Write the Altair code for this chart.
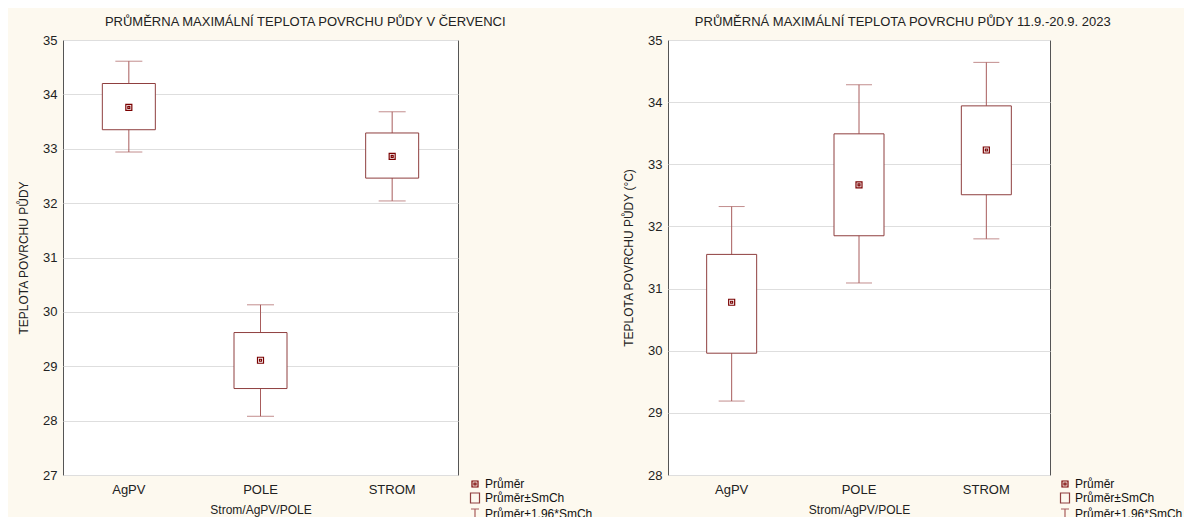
import altair as alt
import pandas as pd

categories = ["AgPV", "POLE", "STROM"]
legend_labels = ["Průměr", "Průměr±SmCh", "Průměr±1.96*SmCh"]

# July panel
jul_mean = [33.76, 29.11, 32.86]
jul_box_lo = [33.35, 28.59, 32.46]
jul_box_hi = [34.20, 29.62, 33.29]
jul_wh_lo = [32.94, 28.08, 32.04]
jul_wh_hi = [34.61, 30.13, 33.68]
jul_ticks = [27, 28, 29, 30, 31, 32, 33, 34, 35]

# September panel
sep_mean = [30.78, 32.67, 33.23]
sep_box_lo = [29.96, 31.85, 32.51]
sep_box_hi = [31.55, 33.49, 33.94]
sep_wh_lo = [29.19, 31.09, 31.80]
sep_wh_hi = [32.32, 34.28, 34.64]
sep_ticks = [28, 29, 30, 31, 32, 33, 34, 35]

FONT = "Liberation Sans"
BOX_COL = "#8f3f3f"
WH_COL = "#a85c5c"
MEAN_COL = "#7a0000"

MEAN_PATH = "M-0.6,-0.6H0.6V0.6H-0.6Z M-0.2,-0.2H0.2V0.2H-0.2Z"
RECT_PATH = "M-0.9,-1H0.9V1H-0.9Z"
T_PATH = "M-0.8,-1H0.8M0,-1V1"


def panel(means, blo, bhi, wlo, whi, ticks, ytitle, title, w, h, boxw, capw,
          legx):
    df = pd.DataFrame({
        "cat": categories, "mean": means, "lo": blo, "hi": bhi,
        "wlo": wlo, "whi": whi, "leg": [legend_labels[0]] * len(categories),
    })
    xenc = alt.X("cat:N", sort=categories,
                 scale=alt.Scale(paddingInner=0, paddingOuter=0),
                 axis=alt.Axis(title="Strom/AgPV/POLE", labelAngle=0,
                               ticks=False, domain=False, labelPadding=8,
                               labelFontSize=13, labelColor="#222",
                               titleFontSize=12, titleFontWeight="normal",
                               titleColor="#222", titlePadding=8,
                               labelFont=FONT, titleFont=FONT))
    yaxis = alt.Axis(title=ytitle, values=ticks, grid=True,
                     gridColor="#dedede", ticks=False, domain=False,
                     labelPadding=6, labelFontSize=13, labelColor="#222",
                     titleFontSize=12, titleFontWeight="normal",
                     titleColor="#222", titlePadding=12,
                     labelFont=FONT, titleFont=FONT)
    yscale = alt.Scale(domain=[ticks[0], ticks[-1]], nice=False, zero=False)
    base = alt.Chart(df).encode(x=xenc)

    leg = alt.Legend(title=None, orient="none", legendX=legx,
                     legendY=h + 3, padding=0, rowPadding=0,
                     symbolSize=100, symbolStrokeWidth=1.2,
                     labelFontSize=12, labelFont=FONT,
                     labelColor="#111", labelOffset=4)

    whisk = base.mark_rule(color=WH_COL, strokeWidth=1).encode(
        y=alt.Y("wlo:Q", scale=yscale, axis=yaxis), y2="whi:Q")
    box = base.mark_bar(size=boxw, fill="white", stroke=BOX_COL,
                        strokeWidth=1).encode(
        y=alt.Y("lo:Q", scale=yscale, axis=yaxis), y2="hi:Q")
    cap_lo = base.mark_tick(size=capw, thickness=1, color=WH_COL).encode(
        y=alt.Y("wlo:Q", scale=yscale, axis=yaxis))
    cap_hi = base.mark_tick(size=capw, thickness=1, color=WH_COL).encode(
        y=alt.Y("whi:Q", scale=yscale, axis=yaxis))
    pts = base.mark_point(filled=False, size=100, strokeWidth=1.2,
                          opacity=1).encode(
        y=alt.Y("mean:Q", scale=yscale, axis=yaxis),
        shape=alt.Shape("leg:N", scale=alt.Scale(
            domain=legend_labels, range=[MEAN_PATH, RECT_PATH, T_PATH]),
            legend=leg),
        color=alt.Color("leg:N", scale=alt.Scale(
            domain=legend_labels, range=[MEAN_COL, BOX_COL, WH_COL]),
            legend=leg),
    )
    return alt.layer(whisk, box, cap_lo, cap_hi, pts).properties(
        width=w, height=h,
        title=alt.TitleParams(title, fontSize=13, font=FONT,
                              fontWeight="normal", color="#222",
                              anchor="middle", frame="bounds", offset=10,
                              dy=5),
    )


left = panel(jul_mean, jul_box_lo, jul_box_hi, jul_wh_lo, jul_wh_hi,
             jul_ticks, "TEPLOTA POVRCHU PŮDY",
             "PRŮMĚRNA MAXIMÁLNÍ TEPLOTA POVRCHU PŮDY V ČERVENCI",
             395, 435, 53, 27, 406)
right = panel(sep_mean, sep_box_lo, sep_box_hi, sep_wh_lo, sep_wh_hi,
              sep_ticks, "TEPLOTA POVRCHU PŮDY (°C)",
              "PRŮMĚRNÁ MAXIMÁLNÍ TEPLOTA POVRCHU PŮDY 11.9.-20.9. 2023",
              382, 435, 50, 26, 391)

chart = alt.hconcat(left, right, spacing=28).resolve_scale(
    shape="independent", color="independent"
).properties(
    padding={"left": 9, "top": 7, "right": 0, "bottom": 0},
    background="#fdf9ef",
).configure_view(fill="white", stroke="#555", strokeWidth=1)

chart.save("out.html", embed_options={"renderer": "svg", "actions": False})
